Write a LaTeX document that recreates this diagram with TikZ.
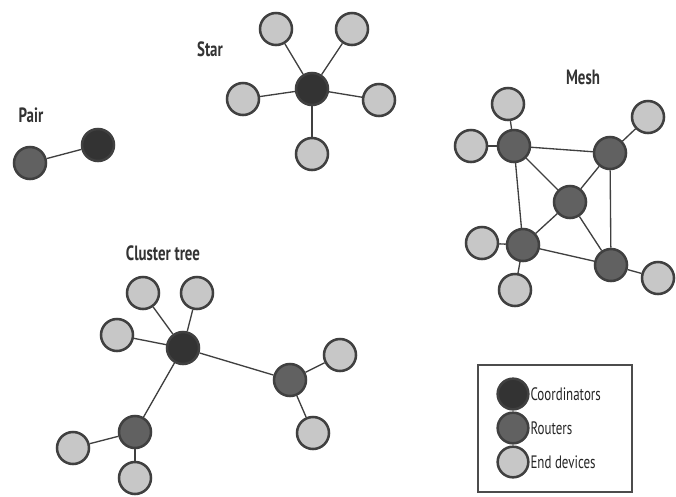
\documentclass[tikz,border=0pt]{standalone}
\usepackage{fontspec}
\newfontfamily\lblfont[FakeStretch=0.72]{PT Sans}
\usepackage{tikz}
\usetikzlibrary{calc}

\tikzset{
    dev/.style={circle,minimum size=24pt,inner sep=0pt,line width=1.9pt,draw=black!75},
    coord/.style={dev,fill=black!80},
    router/.style={dev,fill=black!62},
    enddev/.style={dev,fill=black!22},
    link/.style={line width=1pt,draw=black!75},
    title/.style={font=\lblfont\bfseries\fontsize{15.5}{18}\selectfont,text=black!80},
    keytext/.style={font=\lblfont\fontsize{13.5}{15}\selectfont,text=black!85,anchor=west,inner sep=0.5pt},
}

\begin{document}
\begin{tikzpicture}[x=0.75pt,y=-0.75pt]
    \useasboundingbox (0,0) rectangle (676,497);

    % pair
    \node[title] (pairlbl) at (31,115) {Pair};
    \node[router] (pr) at (30,163) {};
    \node[coord] (pc) at (98,145) {};
    \draw[link] (pr) -- (pc);

    % star
    \node[title] (starlbl) at (210,49) {Star};
    \node[coord] (sc) at (312,89) {};
    \node[enddev] (s1) at (276,29) {};
    \node[enddev] (s2) at (352,29) {};
    \node[enddev] (s3) at (243,99) {};
    \node[enddev] (s4) at (379,100) {};
    \node[enddev] (s5) at (312,154) {};
    \draw[link] (sc) -- (s1);
    \draw[link] (sc) -- (s2);
    \draw[link] (sc) -- (s3);
    \draw[link] (sc) -- (s4);
    \draw[link] (sc) -- (s5);

    % mesh
    \node[title] (meshlbl) at (583,77) {Mesh};
    \node[router] (m1) at (514,146) {};
    \node[router] (m2) at (610,153) {};
    \node[router] (m3) at (570,202) {};
    \node[router] (m4) at (523,245) {};
    \node[router] (m5) at (611,265) {};
    \node[enddev] (me1) at (508,104) {};
    \node[enddev] (me2) at (471,146) {};
    \node[enddev] (me3) at (648,117) {};
    \node[enddev] (me4) at (482,243) {};
    \node[enddev] (me5) at (658,278) {};
    \node[enddev] (me6) at (515,290) {};
    \draw[link] (m1) -- (m2);
    \draw[link] (m1) -- (m3);
    \draw[link] (m1) -- (m4);
    \draw[link] (m2) -- (m3);
    \draw[link] (m2) -- (m5);
    \draw[link] (m3) -- (m4);
    \draw[link] (m3) -- (m5);
    \draw[link] (m4) -- (m5);
    \draw[link] (m1) -- (me1);
    \draw[link] (m1) -- (me2);
    \draw[link] (m2) -- (me3);
    \draw[link] (m4) -- (me4);
    \draw[link] (m5) -- (me5);
    \draw[link] (m4) -- (me6);

    % cluster tree
    \node[title] (treelbl) at (163,253) {Cluster tree};
    \node[coord] (tc) at (183,348) {};
    \node[router] (tr1) at (290,380) {};
    \node[router] (tr2) at (135,432) {};
    \node[enddev] (te1) at (143,293) {};
    \node[enddev] (te2) at (197,293) {};
    \node[enddev] (te3) at (117,335) {};
    \node[enddev] (te4) at (340,355) {};
    \node[enddev] (te5) at (313,433) {};
    \node[enddev] (te6) at (73,448) {};
    \node[enddev] (te7) at (135,478) {};
    \draw[link] (tc) -- (tr1);
    \draw[link] (tc) -- (tr2);
    \draw[link] (tc) -- (te1);
    \draw[link] (tc) -- (te2);
    \draw[link] (tc) -- (te3);
    \draw[link] (tr1) -- (te4);
    \draw[link] (tr1) -- (te5);
    \draw[link] (tr2) -- (te6);
    \draw[link] (tr2) -- (te7);

    % legend
    \draw[line width=1pt,draw=black!70] (478,365) rectangle (632,492);
    \node[coord,minimum size=23pt] (lc) at (513,394) {};
    \node[router,minimum size=23pt] (lr) at (513,428) {};
    \node[enddev,minimum size=23pt] (le) at (513,462) {};
    \node[keytext] (lctxt) at (lc.east) {Coordinators};
    \node[keytext] (lrtxt) at (lr.east) {Routers};
    \node[keytext] (letxt) at (le.east) {End devices};
\end{tikzpicture}
\end{document}
